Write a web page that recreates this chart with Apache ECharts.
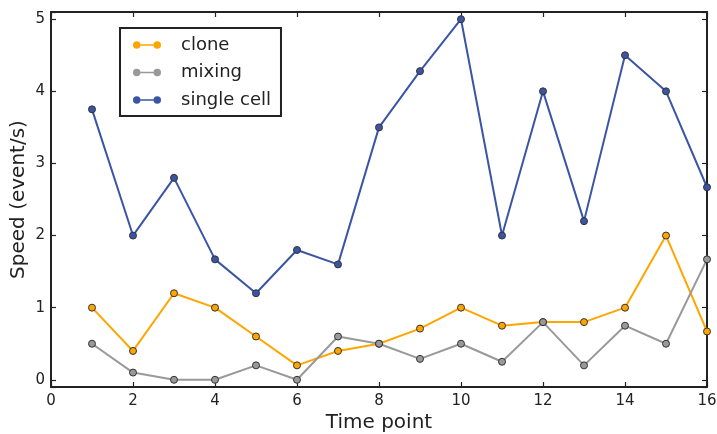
<!DOCTYPE html>
<html>
<head>
<meta charset="utf-8">
<script src="https://cdn.jsdelivr.net/npm/echarts@6/dist/echarts.min.js"></script>
<style>
html,body{margin:0;padding:0;background:#fff;}
#c{width:717px;height:434px;}
</style>
</head>
<body>
<div id="c"></div>
<script>
var timePoints = [1,2,3,4,5,6,7,8,9,10,11,12,13,14,15,16];
var clone = [1.0,0.4,1.2,1.0,0.6,0.2,0.4,0.5,0.71,1.0,0.75,0.8,0.8,1.0,2.0,0.67];
var mixing = [0.5,0.1,0.0,0.0,0.2,0.0,0.6,0.5,0.29,0.5,0.25,0.8,0.2,0.75,0.5,1.67];
var singleCell = [3.75,2.0,2.8,1.67,1.2,1.8,1.6,3.5,4.28,5.0,2.0,4.0,2.2,4.5,4.0,2.67];
var seriesNames = ['clone','mixing','single cell'];
var colors = ['#ffa500','#999999','#3b55a5'];

function pairs(vals){ return timePoints.map(function(t,i){ return [t, vals[i]]; }); }

var FONT = 'DejaVu Sans';
var legendIcon = 'path://M0,4A4,4,0,1,1,8,4A4,4,0,1,1,0,4Z M8,3.2L22,3.2L22,4.8L8,4.8Z M22,4A4,4,0,1,1,30,4A4,4,0,1,1,22,4Z';

var chart = echarts.init(document.getElementById('c'), null, {renderer:'canvas'});
var axisLineStyle = {color:'#222', width:2};
var tickStyle = {show:true, inside:true, length:5, lineStyle:{color:'#222', width:1.2}};
function mkSeries(name, vals, color){
  return {
    name:name, type:'line', data:pairs(vals), xAxisIndex:0, yAxisIndex:0,
    symbol:'circle', symbolSize:7, showAllSymbol:true,
    lineStyle:{color:color, width:2},
    itemStyle:{color:color, borderColor:'#333', borderWidth:1},
    emphasis:{disabled:true}
  };
}
chart.setOption({
  animation:false,
  backgroundColor:'#fff',
  textStyle:{fontFamily:FONT},
  grid:{left:51, right:10, top:12, bottom:47, containLabel:false, outerBoundsMode:'none'},
  legend:{
    left:120, top:28, orient:'vertical',
    data:seriesNames,
    icon:legendIcon,
    itemWidth:28, itemHeight:8, itemGap:7.5,
    padding:[7,10,6,13],
    borderColor:'#222', borderWidth:2, backgroundColor:'#fff',
    textStyle:{fontFamily:FONT, fontSize:18, color:'#222', lineHeight:20, padding:[0,0,0,15]},
    itemStyle:{borderWidth:0}
  },
  xAxis:[{
    type:'value', min:0, max:16, interval:2, position:'bottom',
    name:'Time point', nameLocation:'middle', nameGap:26, nameMoveOverlap:false,
    nameTextStyle:{fontFamily:FONT, fontSize:20, color:'#222'},
    axisLine:{show:true, onZero:false, lineStyle:axisLineStyle},
    axisTick:tickStyle,
    axisLabel:{fontFamily:FONT, fontSize:15, color:'#222', margin:7},
    splitLine:{show:false}
  },{
    type:'value', min:0, max:16, interval:2, position:'top',
    axisLine:{show:true, onZero:false, lineStyle:axisLineStyle},
    axisTick:tickStyle, axisLabel:{show:false}, splitLine:{show:false}
  }],
  yAxis:[{
    type:'value', min:-0.1, max:5.1, splitNumber:5, position:'left',
    name:'Speed (event/s)', nameLocation:'middle', nameGap:22, nameMoveOverlap:false,
    nameTextStyle:{fontFamily:FONT, fontSize:20, color:'#222'},
    axisLine:{show:true, onZero:false, lineStyle:axisLineStyle},
    axisTick:tickStyle,
    axisLabel:{fontFamily:FONT, fontSize:15, color:'#222', margin:6,
      formatter:function(v){ return Math.abs(v - Math.round(v)) < 1e-6 ? String(Math.round(v)) : ''; }},
    splitLine:{show:false}
  },{
    type:'value', min:-0.1, max:5.1, splitNumber:5, position:'right',
    axisLine:{show:true, onZero:false, lineStyle:axisLineStyle},
    axisTick:tickStyle, axisLabel:{show:false}, splitLine:{show:false}
  }],
  series:[
    mkSeries(seriesNames[0], clone, colors[0]),
    mkSeries(seriesNames[1], mixing, colors[1]),
    mkSeries(seriesNames[2], singleCell, colors[2])
  ]
});
</script>
</body>
</html>
